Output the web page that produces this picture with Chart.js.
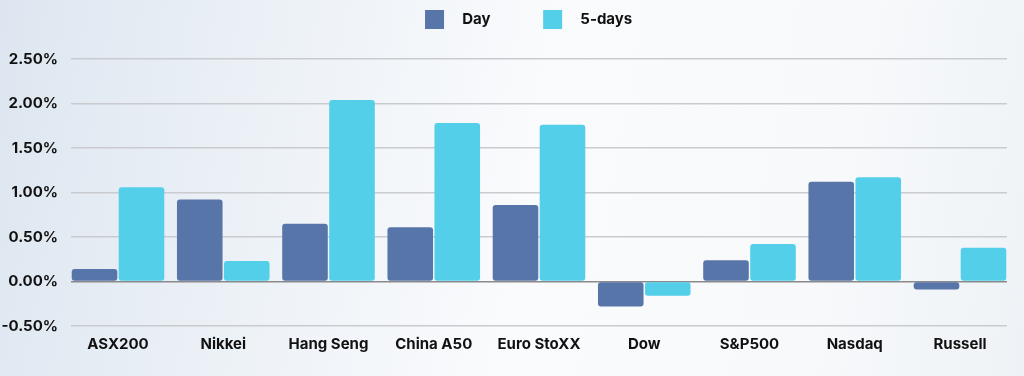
<!DOCTYPE html>
<html>
<head>
<meta charset="utf-8">
<script src="https://cdn.jsdelivr.net/npm/chart.js@4"></script>
<style>
  html, body { margin: 0; padding: 0; }
  body {
    width: 1024px; height: 376px; overflow: hidden;
    background: linear-gradient(100deg, #dde6f0 0%, #edf2f7 28%, #fafbfd 52%, #f7f9fb 80%, #eef2f6 100%);
  }
  #wrap { width: 1024px; height: 376px; position: relative; }
</style>
</head>
<body>
<div id="wrap"><canvas id="marketChart"></canvas></div>
<script>
const categories = ["ASX200", "Nikkei", "Hang Seng", "China A50", "Euro StoXX", "Dow", "S&P500", "Nasdaq", "Russell"];
const dayValues = [0.14, 0.92, 0.65, 0.61, 0.86, -0.28, 0.24, 1.12, -0.09];
const fiveDayValues = [1.06, 0.23, 2.04, 1.78, 1.76, -0.16, 0.42, 1.17, 0.38];
const yTicks = [-0.5, 0, 0.5, 1, 1.5, 2, 2.5];

Chart.defaults.font.family = "Inter, 'Open Sans', sans-serif";
Chart.defaults.font.weight = "bold";
Chart.defaults.color = "#111";

// push the plot down under the legend, nudge legend right
const legendSpace = {
  id: "legendSpace",
  beforeInit(chart) {
    const legend = chart.legend;
    const fit = legend.fit;
    legend.fit = function () {
      fit.bind(legend)();
      this.height += 20;
    };
    const draw = legend.draw;
    legend.draw = function () {
      chart.ctx.save();
      chart.ctx.translate(50, 0);
      draw.bind(legend)();
      chart.ctx.restore();
    };
  },
};

// index positions so the bar groups sit flush with the plot edges
const pts = (arr) => arr.map((v, i) => ({ x: i, y: v }));
const edge = 0.4466;

function createChart() {
  const ctx = document.getElementById("marketChart");

  new Chart(ctx, {
    type: "bar",
    data: {
      datasets: [
        {
          label: "Day",
          data: pts(dayValues),
          backgroundColor: "#5875aa",
          borderRadius: 3,
          borderSkipped: false,
        },
        {
          label: "5-days",
          data: pts(fiveDayValues),
          backgroundColor: "#53cfea",
          borderRadius: 3,
          borderSkipped: false,
        },
      ],
    },
    options: {
      responsive: true,
      maintainAspectRatio: false,
      animation: false,
      layout: {
        padding: { left: 0, right: 17, top: 0, bottom: 22 },
      },
      datasets: {
        bar: {
          categoryPercentage: 0.893,
          barPercentage: 0.97,
        },
      },
      scales: {
        x: {
          type: "linear",
          offset: false,
          min: -edge,
          max: categories.length - 1 + edge,
          afterBuildTicks: (axis) => {
            axis.ticks = categories.map((c, i) => ({ value: i }));
          },
          grid: { display: false },
          border: { display: false },
          ticks: {
            autoSkip: false,
            maxRotation: 0,
            font: { size: 15, weight: "bold" },
            color: "#111",
            padding: 1,
            callback: (v) => categories[v],
          },
        },
        y: {
          min: -0.5,
          max: 2.5,
          afterBuildTicks: (axis) => {
            axis.ticks = yTicks.map((v) => ({ value: v }));
          },
          afterFit: (axis) => {
            axis.width = 71;
          },
          border: { display: false },
          grid: {
            color: (c) => (c.tick && c.tick.value === 0 ? "#8a8a8a" : "#c9cbcf"),
            lineWidth: 1.5,
            drawTicks: false,
          },
          ticks: {
            font: { size: 15, weight: "bold" },
            color: "#111",
            padding: 13,
            callback: (v) => Number(v).toFixed(2) + "%",
          },
        },
      },
      plugins: {
        legend: {
          display: true,
          position: "top",
          labels: {
            boxWidth: 19,
            boxHeight: 19,
            padding: 10,
            font: { size: 15, weight: "bold" },
            color: "#111",
            generateLabels: (chart) =>
              Chart.defaults.plugins.legend.labels.generateLabels(chart).map((l, i) => {
                l.text = "   " + l.text + (i === 0 ? "            " : "              ");
                return l;
              }),
          },
        },
        tooltip: { enabled: false },
      },
    },
    plugins: [legendSpace],
  });
}

createChart();
</script>
</body>
</html>
